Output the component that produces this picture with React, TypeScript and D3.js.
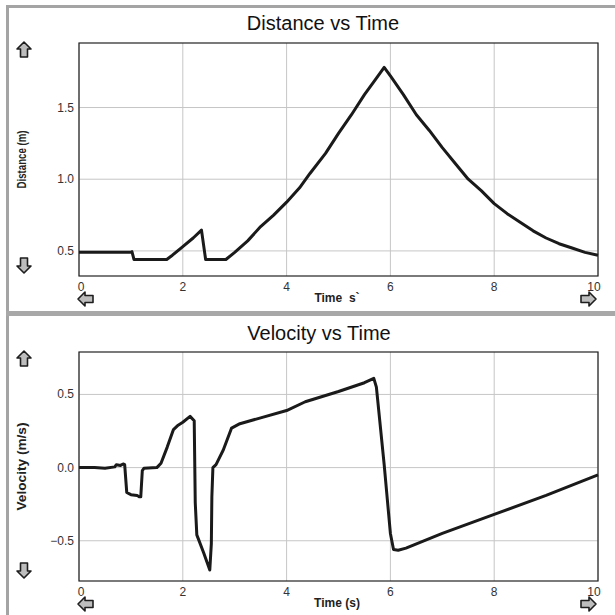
import React from 'react';
import * as d3 from 'd3';

// time axis shared by both panels
const xTicks = [0, 2, 4, 6, 8, 10];

const distTime = [0, 1.0, 1.02, 1.06, 1.69, 1.8, 2.0, 2.2, 2.36, 2.44, 2.83, 3.0, 3.25, 3.5, 3.75, 4.0, 4.25, 4.45, 4.75, 5.0, 5.25, 5.5, 5.7, 5.88, 6.0, 6.25, 6.5, 6.75, 7.0, 7.25, 7.5, 7.75, 8.0, 8.25, 8.5, 8.75, 9.0, 9.25, 9.5, 9.75, 10];
const distValues = [0.49, 0.49, 0.495, 0.44, 0.44, 0.47, 0.53, 0.59, 0.645, 0.44, 0.44, 0.49, 0.57, 0.67, 0.75, 0.84, 0.94, 1.04, 1.18, 1.32, 1.45, 1.59, 1.69, 1.78, 1.72, 1.59, 1.45, 1.34, 1.22, 1.11, 1.0, 0.92, 0.83, 0.76, 0.7, 0.64, 0.59, 0.55, 0.52, 0.49, 0.47];
const distTicks = [0.5, 1.0, 1.5];

const velTime = [0, 0.3, 0.5, 0.69, 0.72, 0.8, 0.85, 0.88, 0.92, 1.0, 1.12, 1.16, 1.19, 1.22, 1.25, 1.5, 1.58, 1.7, 1.82, 1.91, 2.0, 2.14, 2.22, 2.24, 2.27, 2.4, 2.52, 2.55, 2.56, 2.58, 2.64, 2.78, 2.94, 3.1, 3.5, 4.0, 4.36, 5.0, 5.5, 5.68, 5.73, 5.88, 6.0, 6.06, 6.15, 6.3, 7.0, 8.0, 9.0, 10];
const velValues = [0, 0, -0.005, 0.005, 0.02, 0.015, 0.025, 0.02, -0.17, -0.185, -0.19, -0.2, -0.2, -0.02, -0.005, 0, 0.03, 0.14, 0.26, 0.29, 0.31, 0.35, 0.32, -0.24, -0.46, -0.58, -0.7, -0.52, -0.2, 0, 0.02, 0.12, 0.27, 0.3, 0.34, 0.39, 0.45, 0.52, 0.58, 0.61, 0.55, 0.02, -0.45, -0.56, -0.565, -0.55, -0.45, -0.32, -0.19, -0.05];
const velTicks = [0.5, 0.0, -0.5];

const plotLeft = 79;
const plotRight = 598;

const x = d3.scaleLinear().domain([0, 10]).range([plotLeft, plotRight]);

const arrowUp = 'M0,-8 L7,-1 L3.5,-1 L3.5,7 L-3.5,7 L-3.5,-1 L-7,-1 Z';

const Arrow = ({ cx, cy, rot }) => (
  <path d={arrowUp} transform={`translate(${cx},${cy}) rotate(${rot})`}
    fill="#bdbdbd" stroke="#1e1e1e" strokeWidth={1.6} strokeLinejoin="round" />
);

const Panel = ({ top, bottom, domain, ticks, times, values, title, titleY, titleX, yLabel, yLabelLen, xLabel, fmt }) => {
  const y = d3.scaleLinear().domain(domain).range([bottom, top]);
  const line = d3.line().x(d => x(d[0])).y(d => y(d[1]));
  const pts = times.map((t, i) => [t, values[i]]);
  const midY = (top + bottom) / 2;
  return (
    <g>
      <text x={titleX} y={titleY} textAnchor="middle" fontSize={20} fill="#111"
        fontFamily="'Liberation Sans', Arial, sans-serif">{title}</text>
      {xTicks.map(t => (
        <line key={'gx' + t} x1={x(t)} x2={x(t)} y1={top} y2={bottom} stroke="#c6c6c6" strokeWidth={1} />
      ))}
      {ticks.map(t => (
        <line key={'gy' + t} x1={plotLeft} x2={plotRight} y1={y(t)} y2={y(t)} stroke="#c6c6c6" strokeWidth={1} />
      ))}
      <rect x={plotLeft} y={top} width={plotRight - plotLeft} height={bottom - top}
        fill="none" stroke="#222" strokeWidth={1.2} />
      <path d={line(pts)} fill="none" stroke="#1a1a1a" strokeWidth={3} strokeLinejoin="round" />
      {ticks.map(t => (
        <text key={'ty' + t} x={74} y={y(t) + 4} textAnchor="end" fontSize={12} fill="#333"
          fontFamily="'Liberation Sans', Arial, sans-serif">{fmt(t)}</text>
      ))}
      {xTicks.map(t => (
        <text key={'tx' + t} x={x(t) + (t === 0 ? 2 : t === 10 ? -4 : 0)} y={bottom + 15} textAnchor="middle" fontSize={12} fill="#333"
          fontFamily="'Liberation Sans', Arial, sans-serif">{t}</text>
      ))}
      <text transform={`translate(26,${midY}) rotate(-90)`} textAnchor="middle" fontSize={12} fontWeight="bold"
        fill="#222" textLength={yLabelLen} lengthAdjust="spacingAndGlyphs"
        fontFamily="'Liberation Sans', Arial, sans-serif">{yLabel}</text>
      <text x={337} y={bottom + 26} textAnchor="middle" fontSize={12} fontWeight="bold" fill="#222"
        fontFamily="'Liberation Sans', Arial, sans-serif" xmlSpace="preserve">{xLabel}</text>
      <Arrow cx={24} cy={top + 7} rot={0} />
      <Arrow cx={24} cy={bottom - 11} rot={180} />
      <Arrow cx={86} cy={bottom + 23} rot={-90} />
      <Arrow cx={588} cy={bottom + 23} rot={90} />
    </g>
  );
};

const App = () => {
  return (
    <svg width={615} height={615} style={{ position: 'absolute', left: 0, top: 0, background: '#fff' }}>
      <rect x={6} y={5} width={609} height={3} fill="#a4a4a4" />
      <rect x={6} y={5} width={3} height={610} fill="#a4a4a4" />
      <rect x={6} y={311} width={609} height={5} fill="#a8a8a8" />
      <Panel top={43} bottom={276} domain={[0.325, 1.95]} ticks={distTicks}
        times={distTime} values={distValues} title="Distance vs Time" titleX={323} titleY={30}
        yLabel="Distance (m)" yLabelLen={58} xLabel="Time  s`" fmt={d3.format('.1f')} />
      <Panel top={352} bottom={581} domain={[-0.775, 0.79]} ticks={velTicks}
        times={velTime} values={velValues} title="Velocity vs Time" titleX={319} titleY={340}
        yLabel="Velocity (m/s)" yLabelLen={88} xLabel="Time (s)" fmt={d3.format('.1f')} />
    </svg>
  );
};

export default App;
